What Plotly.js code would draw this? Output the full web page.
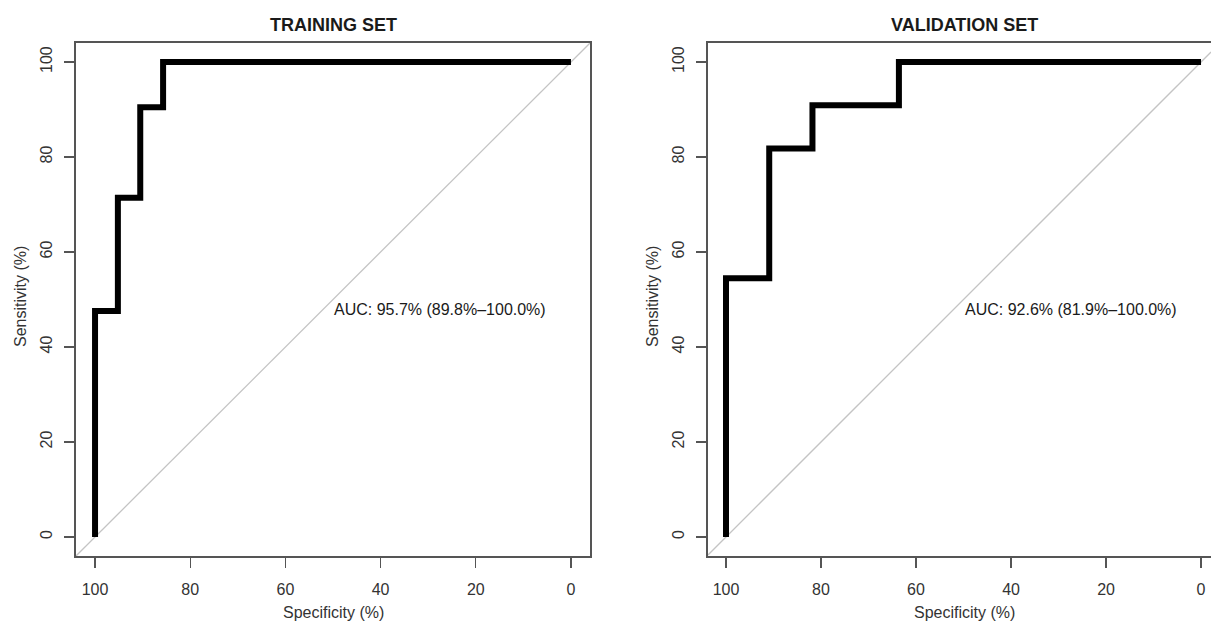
<!DOCTYPE html>
<html>
<head>
<meta charset="utf-8">
<script src="https://cdn.plot.ly/plotly-3.0.1.min.js"></script>
<style>
html,body{margin:0;padding:0;background:#fff;overflow:hidden;}
#chart{width:1211px;height:624px;}
</style>
</head>
<body>
<div id="chart"></div>
<script>
// ROC curve corners (specificity %, sensitivity %)
const trainSpec = [100, 100, 95.2, 95.2, 90.5, 90.5, 85.7, 85.7, 0];
const trainSens = [0, 47.6, 47.6, 71.4, 71.4, 90.5, 90.5, 100, 100];
const validSpec = [100, 100, 90.9, 90.9, 81.8, 81.8, 63.6, 63.6, 0];
const validSens = [0, 54.5, 54.5, 81.8, 81.8, 90.9, 90.9, 100, 100];
const panelTitles = ["TRAINING SET", "VALIDATION SET"];
const aucLabels = ["AUC: 95.7% (89.8%\u2013100.0%)", "AUC: 92.6% (81.9%\u2013100.0%)"];
const tickVals = [100, 80, 60, 40, 20, 0];
const xTitle = "Specificity (%)";
const yTitle = "Sensitivity (%)";

const W = 1211, H = 624;
const FONT = "Liberation Sans, Arial, sans-serif";
const axisGray = "#555";
const textGray = "#333";

const leftRange = [104, -4];
const rightRange = [103.79, -2.1];
const yRange = [-4, 104];

function chance(range) {
  // identity reference line (sensitivity = 100 - specificity) across the whole axis range
  return {x: [range[0], range[1]], y: [100 - range[0], 100 - range[1]]};
}

const c1 = chance(leftRange), c2 = chance(rightRange);

const traces = [
  {x: c1.x, y: c1.y, xaxis: 'x', yaxis: 'y', mode: 'lines', line: {color: '#c4c4c4', width: 1.3}, hoverinfo: 'skip', showlegend: false},
  {x: trainSpec, y: trainSens, xaxis: 'x', yaxis: 'y', mode: 'lines', line: {color: '#000', width: 6}, showlegend: false},
  {x: c2.x, y: c2.y, xaxis: 'x2', yaxis: 'y2', mode: 'lines', line: {color: '#c4c4c4', width: 1.3}, hoverinfo: 'skip', showlegend: false},
  {x: validSpec, y: validSens, xaxis: 'x2', yaxis: 'y2', mode: 'lines', line: {color: '#000', width: 6}, showlegend: false}
];

const yDom = [1 - 556 / H, 1 - 43 / H];

function xAxis(domain, range, anchor) {
  return {
    domain: domain, range: range, anchor: anchor,
    tickvals: tickVals, ticktext: tickVals.map(String),
    ticks: 'outside', ticklen: 10, tickwidth: 1.3, tickcolor: axisGray,
    ticklabelstandoff: 8,
    showline: true, mirror: true, linecolor: axisGray, linewidth: 1.6,
    showgrid: false, zeroline: false,
    tickfont: {family: FONT, size: 16, color: textGray}
  };
}
function yAxis(anchor, mirror) {
  return {
    domain: yDom, range: yRange, anchor: anchor,
    tickvals: tickVals, ticktext: tickVals.map(String),
    ticks: 'outside', ticklen: 10, tickwidth: 1.3, tickcolor: axisGray,
    tickangle: -90, ticklabelstandoff: 6,
    showline: true, mirror: mirror, linecolor: axisGray, linewidth: 1.6,
    showgrid: false, zeroline: false,
    tickfont: {family: FONT, size: 16, color: textGray}
  };
}

const leftBox = [76, 590], rightBox = [708, 1220];
const ann = [];
[leftBox, rightBox].forEach((b, i) => {
  const cx = (b[0] + b[1]) / 2 / W;
  ann.push({text: '<b>' + panelTitles[i] + '</b>', xref: 'paper', yref: 'paper', x: cx, y: 1 - 25 / H,
    xanchor: 'center', yanchor: 'middle', showarrow: false, font: {family: FONT, size: 18, color: '#1a1a1a'}});
  ann.push({text: xTitle, xref: 'paper', yref: 'paper', x: cx, y: 1 - 612 / H,
    xanchor: 'center', yanchor: 'middle', showarrow: false, font: {family: FONT, size: 16, color: textGray}});
  ann.push({text: yTitle, xref: 'paper', yref: 'paper', x: (b[0] - 56) / W, y: 1 - 297 / H, textangle: -90,
    xanchor: 'center', yanchor: 'middle', showarrow: false, font: {family: FONT, size: 16, color: textGray}});
  ann.push({text: aucLabels[i], xref: i === 0 ? 'x' : 'x2', yref: i === 0 ? 'y' : 'y2', x: 50, y: 50,
    xanchor: 'left', yanchor: 'top', showarrow: false, borderpad: 0, font: {family: FONT, size: 16, color: '#1a1a1a'}});
});

const layout = {
  width: W, height: H,
  margin: {l: 0, r: 0, t: 0, b: 0},
  paper_bgcolor: '#fff', plot_bgcolor: '#fff',
  showlegend: false,
  xaxis: xAxis([76 / W, 590 / W], leftRange, 'y'),
  yaxis: yAxis('x', true),
  xaxis2: xAxis([708 / W, 1], rightRange, 'y2'),
  yaxis2: yAxis('x2', false),
  annotations: ann
};

Plotly.newPlot('chart', traces, layout, {displayModeBar: false, staticPlot: true});
</script>
</body>
</html>
